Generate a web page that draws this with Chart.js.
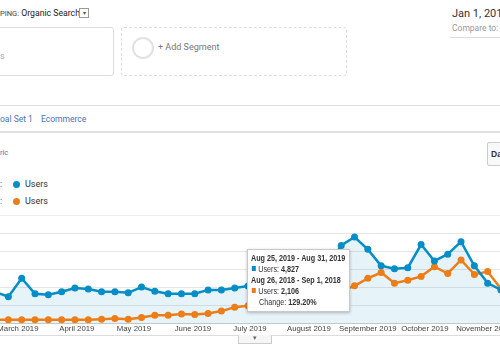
<!DOCTYPE html>
<html>
<head>
<meta charset="utf-8">
<script src="https://cdn.jsdelivr.net/npm/chart.js@4.4.0/dist/chart.umd.min.js"></script>
<style>
  body { margin:0; width:500px; height:350px; overflow:hidden; background:#fff; font-family:Roboto, Arial, sans-serif; color:#333; position:relative; }
  .abs { position:absolute; white-space:nowrap; }
  .link { color:#4a72b8; }
  #tip { position:absolute; left:247px; top:249px; width:103px; height:63px; background:#fff; border:1px solid #c8c8c8; box-shadow:0 1px 3px rgba(0,0,0,0.25); font-family:"Liberation Sans", Arial, sans-serif; font-size:9px; color:#333; box-sizing:border-box; padding:3px 0 0 3px; overflow:hidden; }
  #tip .inner { transform:scaleX(0.8); transform-origin:0 0; }
  #tip .inner div { height:11px; line-height:11px; white-space:nowrap; }
  #tip .sq { display:inline-block; width:5px; height:5px; margin:0 3px 1px 1px; }
</style>
</head>
<body>

<div class="abs" style="left:0;top:8px;font-size:8.7px;color:#222"><span style="font-size:7.5px;color:#444">PING:</span> Organic Search</div>
<div class="abs" style="left:79px;top:8px;width:8px;height:8px;border:1px solid #999;font-size:6px;line-height:8px;text-align:center;color:#555">&#9662;</div>

<div class="abs" style="left:-10px;top:27px;width:122px;height:47px;border:1px solid #ddd;border-radius:3px"></div>
<div class="abs" style="left:0;top:51px;font-size:9px;color:#aaa">s</div>
<div class="abs" style="left:121px;top:27px;width:224px;height:47px;border:1px dashed #ddd;border-radius:3px"></div>
<div class="abs" style="left:132px;top:37px;width:18px;height:18px;border:2px solid #e2e2e2;border-radius:50%"></div>
<div class="abs" style="left:158px;top:42px;font-size:9px;color:#777">+ Add Segment</div>

<div class="abs" style="left:452px;top:7px;font-size:11px;color:#333">Jan 1, 2019</div>
<div class="abs" style="left:452px;top:23px;font-size:8.5px;color:#999">Compare to:</div>
<div class="abs" style="left:450px;top:37px;width:60px;height:1px;background:#ddd"></div>

<div class="abs" style="left:0;top:105px;width:500px;height:1px;background:#e0e0e0"></div>
<div class="abs link" style="left:0;top:114px;font-size:8.5px">oal Set 1</div>
<div class="abs link" style="left:41px;top:114px;font-size:8.5px">Ecommerce</div>
<div class="abs" style="left:0;top:131px;width:500px;height:2px;background:#e0e0e0"></div>

<div class="abs link" style="left:0;top:148px;font-size:7.5px">ric</div>
<div class="abs" style="left:487px;top:142px;width:30px;height:22px;border:1px solid #ccc;border-radius:2px;background:#f8f8f8;font-family:'Liberation Sans',Arial,sans-serif;font-size:8.5px;font-weight:bold;line-height:22px;padding-left:3px;color:#333">Day</div>

<div class="abs" style="left:0;top:179px;font-size:9px">:</div>
<div class="abs" id="dot1" style="left:13px;top:181px;width:7px;height:7px;border-radius:50%"></div>
<div class="abs" style="left:25px;top:179px;font-size:9px">Users</div>
<div class="abs" style="left:0;top:196px;font-size:9px">:</div>
<div class="abs" id="dot2" style="left:13px;top:198px;width:7px;height:7px;border-radius:50%"></div>
<div class="abs" style="left:25px;top:196px;font-size:9px">Users</div>

<div class="abs" style="left:0;top:215px;width:500px;height:1px;background:#eee"></div>

<div class="abs" style="left:-40px;top:212px;width:580px;height:123px">
  <canvas id="usersChart" width="580" height="123"></canvas>
</div>

<div class="abs" style="left:0;top:335px;width:500px;height:1px;background:#ddd"></div>
<div class="abs" style="left:238px;top:335px;width:32px;height:8px;border:1px solid #ccc;border-top:none;background:#f6f6f6;font-size:7px;line-height:7px;text-align:center;color:#666">&#9662;</div>

<div id="tip"><div class="inner"></div></div>

<script>
// weekly users, first point = week of Feb 17 2019
const thisYearUsers = [1774, 1505, 2527, 1667, 1613, 1774, 1989, 1935, 1774, 1774, 1720, 2043, 1800, 1667, 1667,
  1667, 1882, 1882, 1989, 2097, 2204, 2365, 2419, 2580, 2795, 3172, 4355, 4827, 4140, 3226, 3064, 3118, 4408,
  3494, 3871, 4570, 3226, 2258, 1882];
const lastYearUsers = [215, 215, 215, 215, 215, 215, 215, 215, 250, 285, 250, 340, 470, 470, 540,
  510, 565, 700, 915, 995, 1130, 1236, 1344, 1452, 1613, 1720, 1828, 2106, 2527, 2849, 2258, 2419, 2634,
  3172, 2795, 3548, 2742, 2903, 1935];

// month label positions, in days from Feb 17 2019
const monthLabels = ['March 2019', 'April 2019', 'May 2019', 'June 2019', 'July 2019', 'August 2019', 'September 2019', 'October 2019', 'November 2019'];
const monthStartDays = [12, 43, 73, 104, 134, 165, 196, 226, 257];
const gridValues = [0, 1000, 2000, 3000, 4000, 5000];

const hoverIndex = 27;
const hoverThisYear = 'Aug 25, 2019 - Aug 31, 2019';
const hoverLastYear = 'Aug 26, 2018 - Sep 1, 2018';

const blue = '#058dc7';
const orange = '#ed7e17';

document.getElementById('dot1').style.background = blue;
document.getElementById('dot2').style.background = orange;

const fmt = n => n.toLocaleString('en-US');
const a = thisYearUsers[hoverIndex], b = lastYearUsers[hoverIndex];
document.querySelector('#tip .inner').innerHTML = `
  <div><b>${hoverThisYear}</b></div>
  <div><span class="sq" style="background:${blue}"></span>Users: <b>${fmt(a)}</b></div>
  <div><b>${hoverLastYear}</b></div>
  <div><span class="sq" style="background:${orange}"></span>Users: <b>${fmt(b)}</b></div>
  <div style="padding-left:10px">Change: <b>${((a - b) / b * 100).toFixed(2)}%</b></div>
`;

const ctx = document.getElementById('usersChart').getContext('2d');

new Chart(ctx, {
  type: 'line',
  data: {
    datasets: [{
      label: 'Users',
      data: thisYearUsers.map((v, i) => ({ x: i, y: v })),
      borderColor: blue,
      backgroundColor: 'rgba(5,141,199,0.1)',
      pointBackgroundColor: blue,
      fill: 'origin',
      borderWidth: 2.5,
      pointRadius: 3.5,
      pointBorderWidth: 0,
      tension: 0
    }, {
      label: 'Users',
      data: lastYearUsers.map((v, i) => ({ x: i, y: v })),
      borderColor: orange,
      pointBackgroundColor: orange,
      fill: false,
      borderWidth: 2.5,
      pointRadius: 3.5,
      pointBorderWidth: 0,
      tension: 0
    }]
  },
  options: {
    responsive: false,
    animation: false,
    devicePixelRatio: 1,
    layout: { padding: 0 },
    plugins: {
      legend: { display: false },
      tooltip: { enabled: false },
      filler: { drawTime: 'beforeDatasetsDraw' }
    },
    scales: {
      x: {
        type: 'linear',
        min: -2.333,
        max: 40.63,
        afterBuildTicks: s => { s.ticks = monthStartDays.map(d => ({ value: d / 7 })); },
        ticks: {
          callback: (v, i) => monthLabels[i],
          autoSkip: false,
          maxRotation: 0,
          padding: 1,
          color: '#444',
          font: { family: 'Liberation Sans', size: 7.8 }
        },
        grid: { color: 'rgba(0,0,0,0)', drawTicks: false },
        border: { color: '#ccc' }
      },
      y: {
        min: 0,
        max: 6000,
        afterBuildTicks: s => { s.ticks = gridValues.map(v => ({ value: v })); },
        ticks: { display: false },
        grid: { color: '#e6e6e6', drawTicks: false },
        border: { display: false }
      }
    }
  }
});
</script>
</body>
</html>
